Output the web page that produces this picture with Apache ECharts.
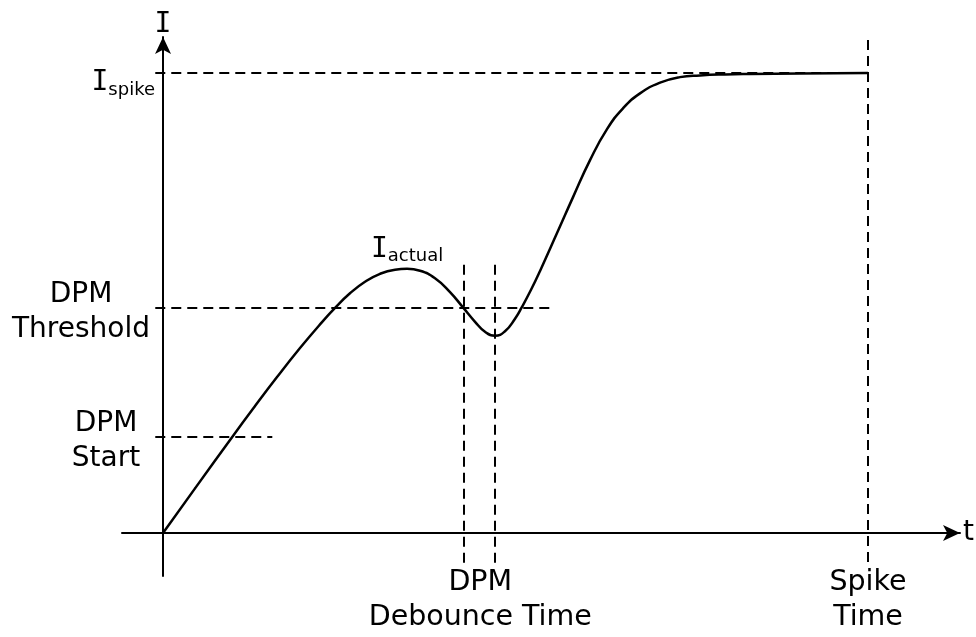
<!DOCTYPE html>
<html>
<head>
<meta charset="utf-8">
<script src="https://cdn.jsdelivr.net/npm/echarts@6/dist/echarts.min.js"></script>
<style>
html,body{margin:0;padding:0;background:#fff;}
#chart{width:976px;height:637px;}
</style>
</head>
<body>
<div id="chart"></div>
<script>
// 电流曲线 (t: Spike Time = 10, I: Ispike = 10)
var tVals=[0,0.454,0.979,1.305,1.617,1.943,2.227,2.440,2.652,2.865,3.078,3.291,3.461,3.645,3.858,4.071,4.255,4.426,4.567,4.709,4.851,4.993,5.092,5.220,5.348,5.589,5.816,6.057,6.298,6.525,6.766,7.050,7.333,7.617,7.972,8.326,9.035,10];
var iVals=[0,0.970,2.083,2.759,3.389,4.020,4.535,4.893,5.211,5.463,5.635,5.724,5.743,5.702,5.539,5.237,4.904,4.591,4.374,4.287,4.385,4.657,4.915,5.287,5.698,6.520,7.302,8.107,8.780,9.233,9.557,9.791,9.911,9.948,9.970,9.980,9.991,10];
var peakIndex=12;

// 纵轴刻度
var yTickValues=[2.09,4.89,10];
var yTickNames=['start','threshold','spike'];
// 横轴刻度
var xTickValues=[4.5,10];
var xTickLabels=['DPM\nDebounce Time','Spike\nTime'];

// 虚线: 水平 [I, t起, t止], 垂直 [t, I起, I止]
var hGuides=[[10,-0.11,10],[4.89,-0.11,5.49],[2.09,-0.11,1.55]];
var vGuides=[[4.26,5.83,-0.70],[4.71,5.83,-0.70],[10,10.72,-0.63]];

var FONT='DejaVu Sans';
var subRich={
    i:{fontFamily:'DejaVu Sans Mono',fontSize:28,lineHeight:28,verticalAlign:'top',color:'#000'},
    s:{fontFamily:FONT,fontSize:18,lineHeight:18,padding:[12,0,0,0],verticalAlign:'top',color:'#000'},
    ii:{fontFamily:'DejaVu Sans Mono',fontSize:28,lineHeight:28,padding:[6,0,0,0],verticalAlign:'top',color:'#000'},
    ss:{fontFamily:FONT,fontSize:18,lineHeight:18,padding:[18,0,0,0],verticalAlign:'top',color:'#000'},
    th:{fontFamily:FONT,fontSize:28,lineHeight:35,width:148,align:'center',color:'#000'},
    st:{fontFamily:FONT,fontSize:28,lineHeight:35,width:98,align:'center',color:'#000'}
};

// 按数值找刻度下标
function nearest(arr,v){
    var best=0;
    for(var i=1;i<arr.length;i++){
        if(Math.abs(arr[i]-v)<Math.abs(arr[best]-v)) best=i;
    }
    return best;
}

var curve=[];
for(var i=0;i<tVals.length;i++){
    if(i===peakIndex){
        curve.push({
            value:[tVals[i],iVals[i]],
            symbol:'circle',
            symbolSize:1,
            itemStyle:{color:'rgba(0,0,0,0)'},
            label:{show:true,position:'top',distance:5,formatter:'{i|I}{s|actual}',rich:subRich}
        });
    }else{
        curve.push([tVals[i],iVals[i]]);
    }
}

var guideData=[];
for(var i=0;i<hGuides.length;i++){
    guideData.push([{coord:[hGuides[i][1],hGuides[i][0]]},{coord:[hGuides[i][2],hGuides[i][0]]}]);
}
for(var i=0;i<vGuides.length;i++){
    guideData.push([{coord:[vGuides[i][0],vGuides[i][1]]},{coord:[vGuides[i][0],vGuides[i][2]]}]);
}

var myChart=echarts.init(document.getElementById('chart'));
var option={
    animation:false,
    grid:{left:122,right:16,top:37,bottom:61,outerBoundsMode:'none'},
    xAxis:{
        type:'value',
        min:-0.582,
        max:11.305,
        name:'t',
        nameLocation:'end',
        nameGap:3,
        nameTextStyle:{fontFamily:FONT,fontSize:28,color:'#000',verticalAlign:'middle',padding:[0,0,6,0]},
        axisLine:{onZero:true,symbol:['none','arrow'],symbolSize:[12,17],lineStyle:{color:'#000',width:2}},
        axisTick:{show:false},
        splitLine:{show:false},
        axisLabel:{
            customValues:xTickValues,
            margin:-11,
            fontFamily:FONT,
            fontSize:28.5,
            lineHeight:35,
            color:'#000',
            align:'center',
            formatter:function(v){return xTickLabels[nearest(xTickValues,v)];}
        }
    },
    yAxis:{
        type:'value',
        min:-0.935,
        max:10.783,
        name:'I',
        nameLocation:'end',
        nameGap:-2,
        nameTextStyle:{fontFamily:'DejaVu Sans Mono',fontSize:28,color:'#000',align:'center'},
        axisLine:{onZero:true,symbol:['none','arrow'],symbolSize:[12,17],lineStyle:{color:'#000',width:2}},
        axisTick:{show:false},
        splitLine:{show:false},
        axisLabel:{
            customValues:yTickValues,
            margin:-33,
            padding:[8,0,0,0],
            color:'#000',
            rich:subRich,
            formatter:function(v){
                var k=yTickNames[nearest(yTickValues,v)];
                if(k==='spike') return '{ii|I}{ss|spike}';
                if(k==='threshold') return '{th|DPM}\n{th|Threshold}';
                return '{st|DPM}\n{st|Start}';
            }
        }
    },
    series:[{
        type:'line',
        data:curve,
        smooth:true,
        symbol:'none',
        showSymbol:true,
        clip:false,
        lineStyle:{color:'#000',width:2.5},
        markLine:{
            silent:true,
            symbol:['none','none'],
            label:{show:false},
            lineStyle:{color:'#000',width:2,type:[10,6]},
            data:guideData
        }
    }]
};
myChart.setOption(option);
</script>
</body>
</html>
